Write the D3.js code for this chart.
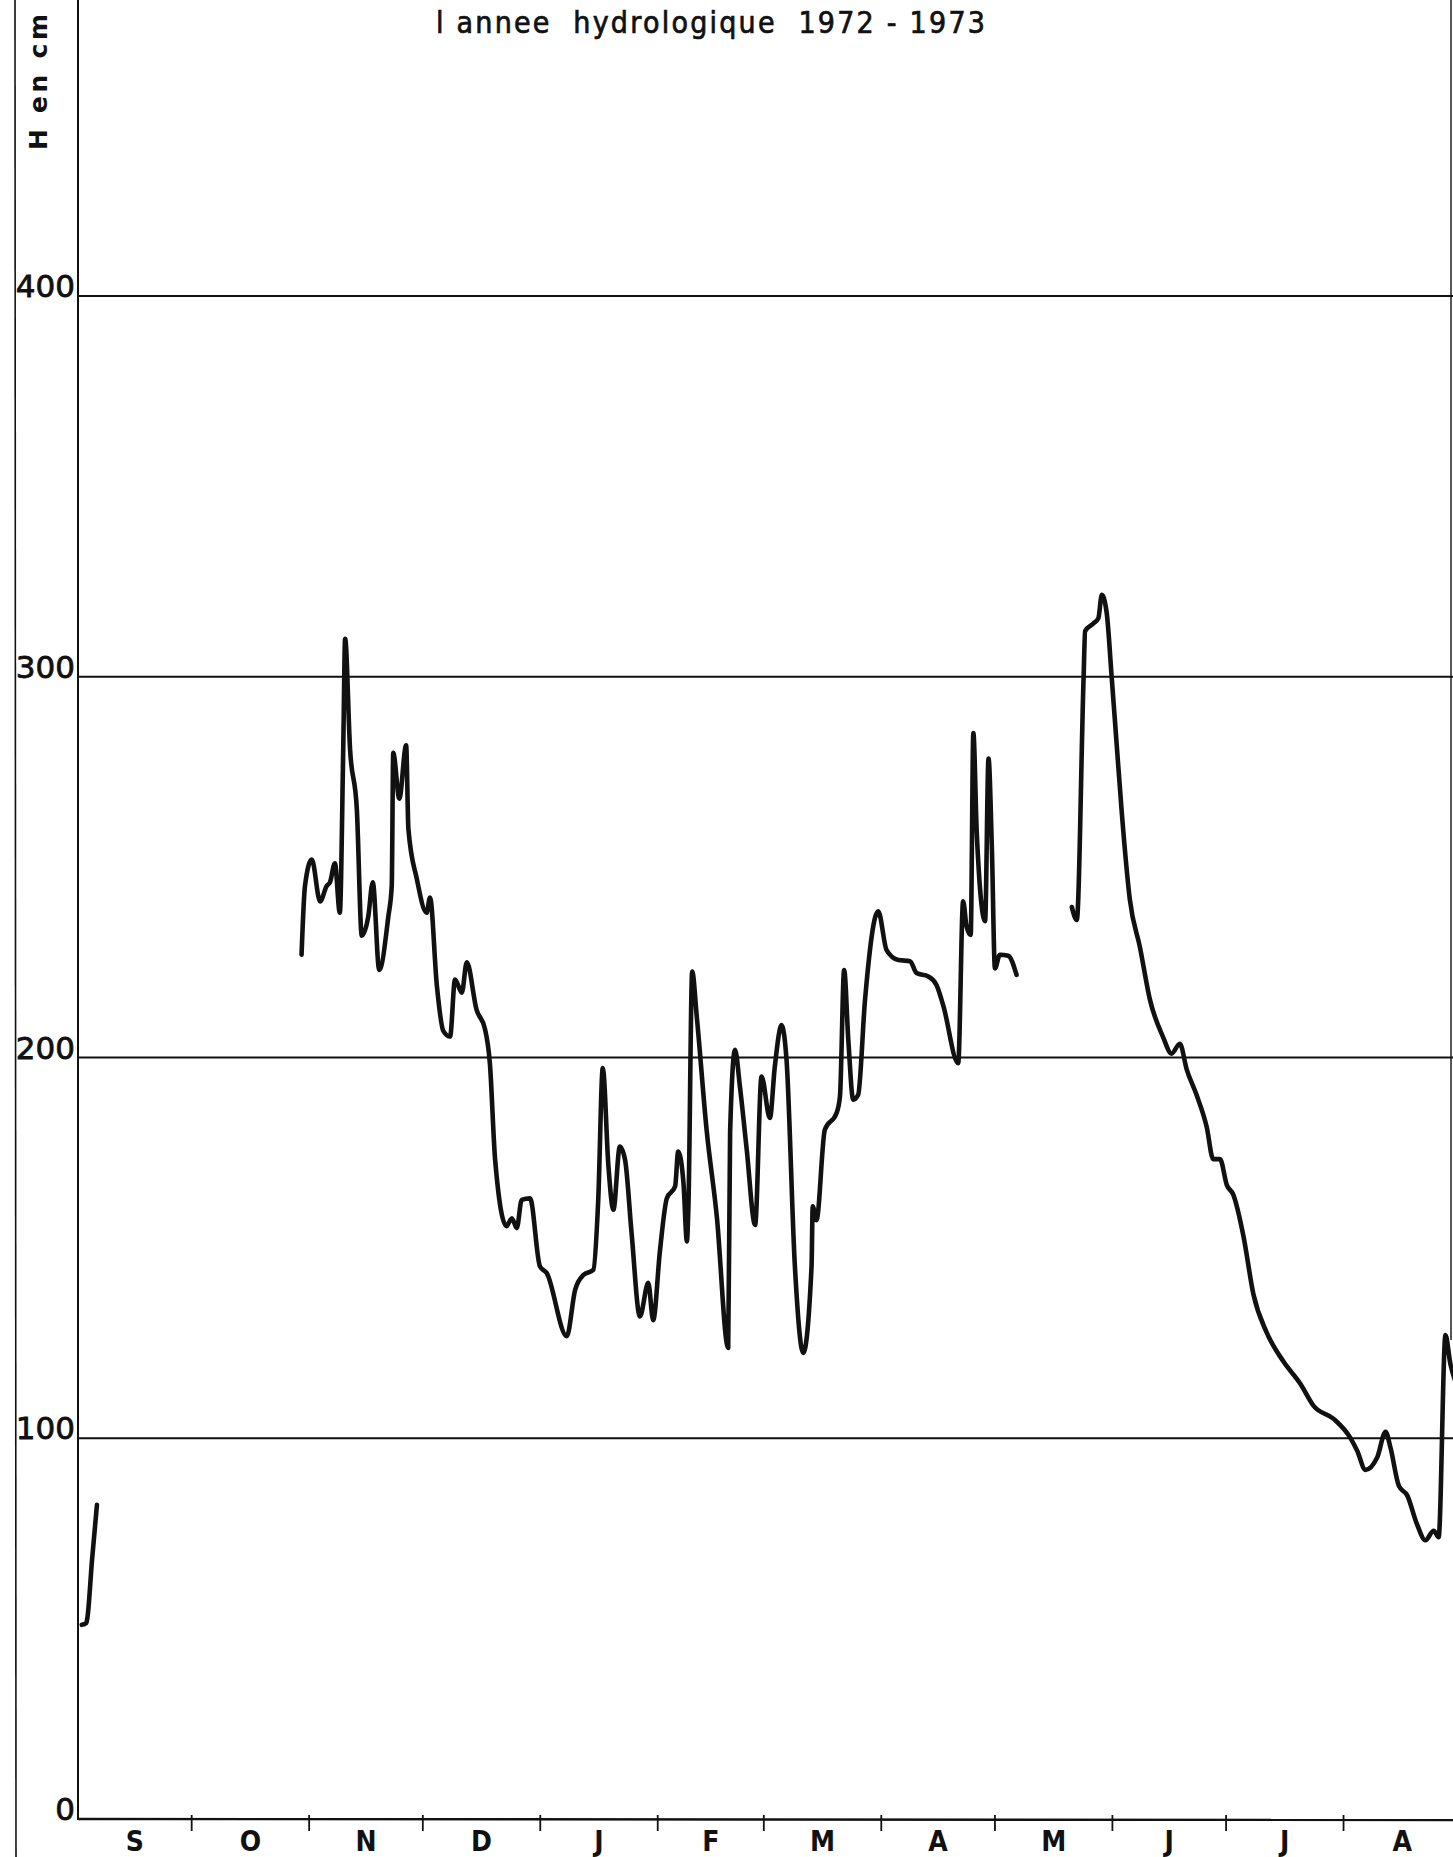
<!DOCTYPE html>
<html>
<head>
<meta charset="utf-8">
<script src="https://cdn.jsdelivr.net/npm/d3@7"></script>
<style>
  html, body { margin: 0; padding: 0; background: #fff; }
  svg { display: block; }
</style>
</head>
<body>
<script>
// ---- data (days since 1 Sept 1972, water level H in cm) ----
const sepDays    = [1.0, 2.2, 2.5, 3.7, 5.0];
const sepLevels  = [51, 51.5, 53, 68, 82.5];

const winterDays = [59.0, 59.9, 61.7, 63.9, 65.6, 66.5, 67.8, 69.1, 70.0, 70.5, 71.8, 73.6, 74.9, 76.6, 77.8, 79.5,
  81.9, 82.8, 83.2, 84.8, 86.6, 87.2, 89.4, 92.0, 92.9, 94.7, 96.4, 98.2, 99.5, 101.3, 102.6, 105.2, 107.4, 108.7,
  110.1, 113.1, 114.5, 115.8, 117.1, 119.3, 121.9, 123.7, 129.0, 131.2, 133.4, 136.0, 137.3, 138.5, 140.0, 141.3,
  143.0, 144.4, 146.1, 148.3, 150.5, 151.8, 153.6, 155.4, 157.6, 158.4, 159.8, 160.7, 161.1, 162.1, 163.3, 165.9,
  168.6, 171.6, 172.1, 173.4, 174.7, 176.5, 178.7, 180.4, 182.6, 183.9, 185.7, 187.0, 189.2, 191.4, 193.6, 193.9,
  194.9, 197.1, 200.2, 201.1, 202.2, 203.3, 204.6, 205.9, 207.7, 211.2, 213.4, 216.5, 219.6, 221.3, 224.4, 226.6,
  228.4, 232.3, 233.6, 234.5, 235.6, 236.3, 237.2, 239.4, 240.3, 241.2, 242.0, 243.3, 245.5, 247.7];
const winterLevels = [227, 245, 252, 241, 245, 246, 251, 238, 281, 310, 281, 265, 232, 237, 246, 223,
  237, 245, 280, 268, 282, 260, 247, 238, 242, 219, 207, 205.5, 220.5, 217, 225, 212.5, 207.5, 198.5,
  173, 155.7, 157.8, 155.2, 162.6, 163, 145.2, 143.4, 126.8, 139, 142.9, 144.2, 162.6, 197.2, 171.3, 160,
  176.6, 173, 153.9, 132, 140.8, 131, 149.4, 163, 166.2, 175.3, 167, 151.7, 160.9, 222.6, 210.8, 181,
  158.2, 123.7, 180.2, 202, 192.3, 175.7, 156, 195, 184.1, 197.6, 208.5, 199.3, 145.2, 122.4, 145.2, 160.9,
  157.3, 181, 185.4, 189.8, 223, 204.6, 188.9, 190.2, 215, 238.4, 228.2, 225.6, 225.3, 222.2, 221.3, 219,
  213.5, 198.5, 241, 234.5, 232.2, 285.2, 259, 235.8, 278.5, 254.5, 223.4, 227, 226.7, 221.7];

const summerDays = [262.3, 263.6, 265.4, 265.8, 268.0, 269.3, 270.2, 271.5, 272.8, 274.1, 275.5, 277.6, 280.3,
  282.9, 286.4, 288.6, 290.8, 292.6, 295.2, 297.9, 299.6, 301.4, 303.2, 304.9, 307.6, 310.2, 313.7, 318.1,
  322.6, 326.1, 331.4, 335.8, 337.6, 339.8, 342.9, 345.1, 346.4, 348.6, 350.8, 353.4, 355.6, 357.8, 359.1,
  360.9, 362.2, 363.5];
const summerLevels = [239.5, 236.1, 300, 312, 314, 315.4, 321.5, 316.7, 300, 282.6, 264, 241.5, 228.8,
  215.2, 205.3, 201, 203.6, 196.9, 190.2, 181.7, 173.3, 173.3, 166.5, 164, 153, 137.9, 127.8, 120.2,
  114.3, 108.5, 105.1, 100.1, 96.7, 91.7, 95, 101.7, 97.5, 87.5, 85, 77.4, 73.2, 75.7, 74,
  127.1, 119.5, 115];

const monthLabels = ["S", "O", "N", "D", "J", "F", "M", "A", "M", "J", "J", "A"];
const yTickValues = [0, 100, 200, 300, 400];
const titleText = "l annee  hydrologique  1972 - 1973";
const yTitle = "H en cm";

// ---- drawing ----
const W = 1453, H = 1857;
const start = new Date(1972, 8, 1);
const end = new Date(1973, 8, 1);
const toDate = off => new Date(start.getTime() + off * 864e5);

const x = d3.scaleTime().domain([start, end]).range([78, 1461]);
const y = d3.scaleLinear().domain([0, 400]).range([1819, 296]);

const svg = d3.select("body").append("svg").attr("width", W).attr("height", H);
svg.append("rect").attr("width", W).attr("height", H).attr("fill", "#fff");

const ink = "#111";

// frame lines
svg.append("line").attr("x1", 15).attr("x2", 16).attr("y1", 0).attr("y2", H)
  .attr("stroke", ink).attr("stroke-width", 1.6);
svg.append("line").attr("x1", 1451).attr("x2", 1451).attr("y1", 0).attr("y2", 1340)
  .attr("stroke", ink).attr("stroke-width", 1.4);

// gridlines
svg.append("g").selectAll("line").data(yTickValues.filter(v => v > 0)).join("line")
  .attr("x1", x(start)).attr("x2", W)
  .attr("y1", d => y(d)).attr("y2", d => y(d))
  .attr("stroke", ink).attr("stroke-width", 2);

// axes lines
svg.append("line").attr("x1", x(start)).attr("x2", x(start)).attr("y1", 0).attr("y2", y(0) + 1)
  .attr("stroke", ink).attr("stroke-width", 2);
svg.append("line").attr("x1", x(start)).attr("x2", W).attr("y1", y(0)).attr("y2", y(0) + 1)
  .attr("stroke", ink).attr("stroke-width", 2.4);

// month ticks
const monthStarts = d3.timeMonth.range(new Date(1972, 9, 1), end);
svg.append("g").selectAll("line").data(monthStarts).join("line")
  .attr("x1", d => x(d)).attr("x2", d => x(d))
  .attr("y1", y(0) - 4).attr("y2", y(0) + 12)
  .attr("stroke", ink).attr("stroke-width", 1.8);

// month labels
const allMonths = d3.timeMonth.range(start, end);
svg.append("g").selectAll("text").data(allMonths).join("text")
  .attr("x", d => (x(d) + x(d3.timeMonth.offset(d, 1))) / 2)
  .attr("y", 1851)
  .attr("text-anchor", "middle")
  .attr("font-family", "'DejaVu Sans Condensed', 'DejaVu Sans', sans-serif")
  .attr("font-weight", "bold")
  .attr("font-size", 28)
  .attr("fill", ink)
  .text((d, i) => monthLabels[i]);

// y tick labels
svg.append("g").selectAll("text").data(yTickValues).join("text")
  .attr("x", 75)
  .attr("y", d => y(d) + 1)
  .attr("text-anchor", "end")
  .attr("font-family", "'DejaVu Sans', sans-serif")
  .attr("font-size", 31)
  .attr("fill", ink)
  .attr("stroke", ink).attr("stroke-width", 0.8)
  .text(d => d);

// y title
svg.append("text")
  .attr("transform", "translate(47,150) rotate(-90)")
  .attr("font-family", "'DejaVu Sans', sans-serif")
  .attr("font-weight", "bold")
  .attr("font-size", 25)
  .attr("textLength", 136).attr("lengthAdjust", "spacing")
  .attr("fill", ink)
  .text(yTitle);

// title
svg.append("text")
  .attr("x", 436).attr("y", 33)
  .attr("font-family", "'DejaVu Sans Condensed', 'DejaVu Sans', sans-serif")
  .attr("font-size", 30)
  .attr("textLength", 549).attr("lengthAdjust", "spacing")
  .attr("xml:space", "preserve")
  .style("white-space", "pre")
  .attr("fill", ink)
  .attr("stroke", ink).attr("stroke-width", 0.7)
  .text(titleText);

// series
const line = d3.line()
  .x(d => x(toDate(d[0])))
  .y(d => y(d[1]))
  .curve(d3.curveMonotoneX);

const segments = [
  d3.zip(sepDays, sepLevels),
  d3.zip(winterDays, winterLevels),
  d3.zip(summerDays, summerLevels)
];
svg.append("g").selectAll("path").data(segments).join("path")
  .attr("d", line)
  .attr("fill", "none")
  .attr("stroke", ink)
  .attr("stroke-width", 4.6)
  .attr("stroke-linejoin", "round")
  .attr("stroke-linecap", "round");
</script>
</body>
</html>
